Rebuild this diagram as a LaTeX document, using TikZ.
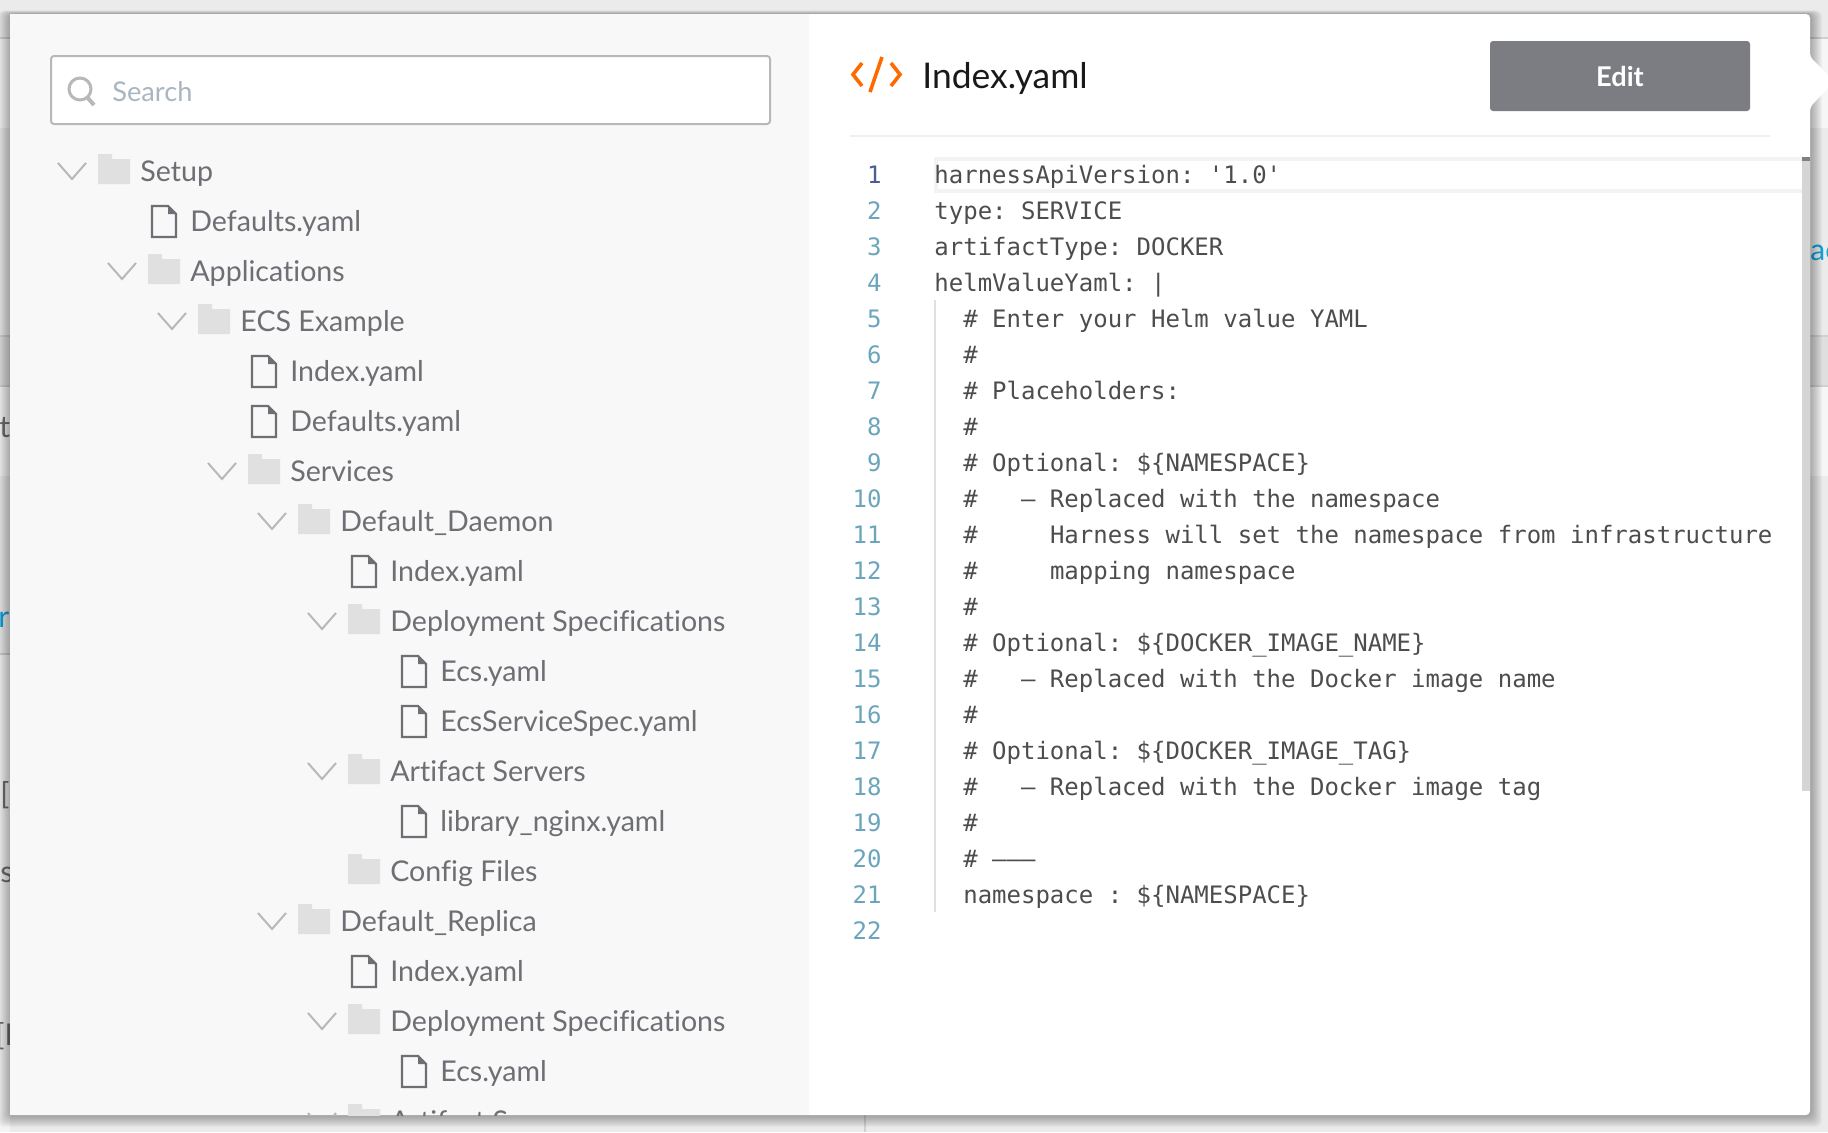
\documentclass[tikz,border=0pt]{standalone}
\usepackage{fontspec}
\setmainfont[Ligatures=NoCommon]{Lato}
\newfontfamily\codefont{DejaVu Sans Mono}
\usetikzlibrary{arrows.meta, positioning}

\definecolor{pagegray}{HTML}{EBEBEB}
\definecolor{pagelight}{HTML}{F6F6F6}
\definecolor{pageband}{HTML}{DFDFDF}
\definecolor{pageline}{HTML}{D0D0D0}
\definecolor{panelgray}{HTML}{F8F8F8}
\definecolor{foldergray}{HTML}{E0E0E0}
\definecolor{treegray}{HTML}{6E6F74}
\definecolor{chevgray}{HTML}{B8B8B8}
\definecolor{codegray}{HTML}{4D4D4D}
\definecolor{numteal}{HTML}{6BA5BC}
\definecolor{numactive}{HTML}{4F5B93}
\definecolor{linkblue}{HTML}{0FA3DC}
\definecolor{iconorange}{HTML}{FF6A00}
\definecolor{searchgray}{HTML}{A9B6C2}

\tikzset{
  treetext/.style={anchor=base west, inner sep=0pt, text=treegray, font=\fontsize{14.3}{16}\selectfont},
  codetext/.style={anchor=base west, inner sep=0pt, text=codegray, font=\codefont\fontsize{12}{14}\selectfont},
  numtext/.style={anchor=base east, inner sep=0pt, text=numteal, font=\codefont\fontsize{12}{14}\selectfont},
  stubtext/.style={anchor=base west, inner sep=0pt, text=treegray, font=\fontsize{15}{18}\selectfont},
  openfolder/.pic={
    \draw[chevgray, line width=1pt] (-40,-8) -- (-26,8) -- (-12,-8);
    \fill[foldergray] (0,-17) -- (14,-17) -- (14,-12) -- (32,-12) -- (32,13) -- (0,13) -- cycle;
  },
  leaffolder/.pic={
    \fill[foldergray] (0,-17) -- (14,-17) -- (14,-12) -- (32,-12) -- (32,13) -- (0,13) -- cycle;
  },
  filedoc/.pic={
    \draw[treegray, line width=1.2pt] (4,-15) -- (20,-15) -- (28,-7) -- (28,16) -- (4,16) -- cycle;
    \fill[treegray] (20,-15) -- (28,-7) -- (20,-7) -- cycle;
  }
}

\begin{document}
\frenchspacing
\begin{tikzpicture}[x=0.5pt, y=-0.5pt]
\useasboundingbox (0,0) rectangle (1828,1132);

% --- Page behind the dialog ---
\fill[pagegray] (0,0) rectangle (1828,1132);
\fill[pagelight] (0,38) rectangle (1828,128);
\fill[pageband] (0,336) rectangle (1828,386);
\fill[pagelight] (0,386) rectangle (1828,476);
\fill[panelgray!70!pagegray] (0,654) rectangle (10,1132);
\foreach \ly in {38,336,386}
  \draw[pageline, line width=1pt] (0,\ly) -- (1828,\ly);
\draw[pageline, line width=1pt] (0,654) -- (12,654);
\draw[pageline, line width=1pt] (865,1110) -- (865,1132);

% Cut off words at the edges
\node[stubtext] (stubti) at (-1,437) {ti};
\node[stubtext, text=linkblue] (stubr) at (-2,627) {r};
\node[stubtext] (stubb) at (0,804) {[};
\node[stubtext] (stubs) at (0,882) {s};
\node[stubtext] (stube) at (-5,1045) {[E};
\node[stubtext, text=linkblue] (stubac) at (1810,260) {ac};

% Shadow of the dialog
\foreach \s in {1,2,...,12}
  \fill[black, opacity=0.028, rounded corners=3pt]
    ({10-\s},{14-0.3*\s}) rectangle ({1810+\s},{1115+\s});

% --- Dialog ---
\fill[white, rounded corners=2pt] (10,14) -- (1810,14) -- (1810,57)
  -- (1830,77) -- (1830,86) -- (1810,107) -- (1810,1115) -- (10,1115) -- cycle;

\begin{scope}
  \clip (10,14) rectangle (1810,1115);
  \fill[panelgray] (10,14) rectangle (809,1115);

  % --- Left Panel: Search and tree ---
  \fill[white, draw=chevgray, line width=1pt, rounded corners=1.5pt] (51,56) rectangle (770,124);
  \draw[chevgray, line width=1.5pt] (80,89) circle (11);
  \draw[chevgray, line width=2pt] (87,97) -- (94,105);
  \node[treetext, text=searchgray, font=\fontsize{13.6}{16}\selectfont] (searchtext) at (112,101) {Search};

  \foreach \row/\lvl/\kind/\name in {
    0/0/openfolder/Setup,
    1/1/filedoc/Defaults.yaml,
    2/1/openfolder/Applications,
    3/2/openfolder/ECS Example,
    4/3/filedoc/Index.yaml,
    5/3/filedoc/Defaults.yaml,
    6/3/openfolder/Services,
    7/4/openfolder/Default\_Daemon,
    8/5/filedoc/Index.yaml,
    9/5/openfolder/Deployment Specifications,
    10/6/filedoc/Ecs.yaml,
    11/6/filedoc/EcsServiceSpec.yaml,
    12/5/openfolder/Artifact Servers,
    13/6/filedoc/library\_nginx.yaml,
    14/5/leaffolder/Config Files,
    15/4/openfolder/Default\_Replica,
    16/5/filedoc/Index.yaml,
    17/5/openfolder/Deployment Specifications,
    18/6/filedoc/Ecs.yaml,
    19/5/openfolder/Artifact Servers
  }{
    \pic at ({98+50*\lvl},{171+50*\row}) {\kind};
    \node[treetext] (item\row) at ({140+50*\lvl},{181+50*\row}) {\name};
  }

  % --- Right Panel: Header ---
  \draw[iconorange, line width=1.8pt] (862,63) -- (853,74.5) -- (862,86);
  \draw[iconorange, line width=1.8pt] (882,57) -- (870,92);
  \draw[iconorange, line width=1.8pt] (891,63) -- (900,74.5) -- (891,86);
  \node[anchor=base west, inner sep=0pt, text=black!90, font=\fontsize{17.7}{20}\selectfont] (title) at (922,88) {Index.yaml};
  \fill[treegray!90!white, rounded corners=1.5pt] (1490,41) rectangle (1750,111);
  \node[anchor=base, inner sep=0pt, text=white, font=\bfseries\fontsize{13.6}{16}\selectfont] (editlabel) at (1620,86) {Edit};
  \fill[pagegray!80!white] (850,135) rectangle (1770,137);

  % --- Right Panel: Code ---
  \draw[panelgray!60!pagegray, line width=2pt] (1810,159) -- (936,159) -- (936,191) -- (1810,191);
  \draw[foldergray, line width=1pt] (935,300) -- (935,912);
  \fill[pageline!90!white] (1802,157) rectangle (1810,791);
  \fill[gray] (1802,157) rectangle (1810,161);

  \foreach \lnum in {2,3,...,22}
    \node[numtext] (num\lnum) at (882,{147+36*\lnum}) {\lnum};
  \node[numtext, text=numactive] (num1) at (882,183) {1};

  \foreach \lnum/\txt in {
    1/harnessApiVersion: '1.0',
    2/type: SERVICE,
    3/artifactType: DOCKER,
    4/helmValueYaml: |,
    5/~~\# Enter your Helm value YAML,
    6/~~\#,
    7/~~\# Placeholders:,
    8/~~\#,
    9/~~\# Optional: \$\{NAMESPACE\},
    10/~~\#~~~– Replaced with the namespace,
    11/~~\#~~~~~Harness will set the namespace from infrastructure,
    12/~~\#~~~~~mapping namespace,
    13/~~\#,
    14/~~\# Optional: \$\{DOCKER\_IMAGE\_NAME\},
    15/~~\#~~~– Replaced with the Docker image name,
    16/~~\#,
    17/~~\# Optional: \$\{DOCKER\_IMAGE\_TAG\},
    18/~~\#~~~– Replaced with the Docker image tag,
    19/~~\#,
    20/~~\# –––,
    21/~~namespace : \$\{NAMESPACE\}
  }
    \node[codetext] (code\lnum) at (934,{147+36*\lnum}) {\txt};
\end{scope}

\end{tikzpicture}
\end{document}
